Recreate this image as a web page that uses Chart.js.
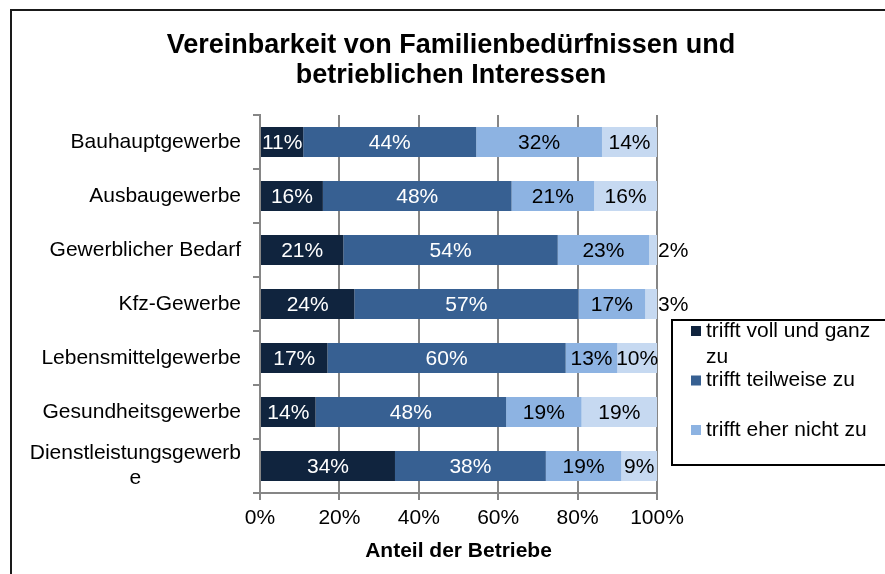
<!DOCTYPE html>
<html lang="de">
<head>
<meta charset="utf-8">
<title>Vereinbarkeit von Familienbedürfnissen und betrieblichen Interessen</title>
<script src="https://cdn.jsdelivr.net/npm/chart.js@4.4.1/dist/chart.umd.min.js"></script>
<style>
  html, body { margin: 0; padding: 0; background: #fff; }
  #wrap { width: 885px; height: 574px; position: relative; }
</style>
</head>
<body>
<div id="wrap"><canvas id="chart" width="885" height="574"></canvas></div>
<script>
// Daten
const TITLE_LINES = ['Vereinbarkeit von Familienbedürfnissen und', 'betrieblichen Interessen'];
const X_TITLE = 'Anteil der Betriebe';
const CATEGORIES = ['Bauhauptgewerbe', 'Ausbaugewerbe', 'Gewerblicher Bedarf', 'Kfz-Gewerbe',
  'Lebensmittelgewerbe', 'Gesundheitsgewerbe', 'Dienstleistungsgewerbe'];
const SERIES_NAMES = ['trifft voll und ganz zu', 'trifft teilweise zu', 'trifft eher nicht zu', 'trifft überhaupt nicht zu'];
const VOLL = [11, 16, 21, 24, 17, 14, 34];
const TEILWEISE = [44, 48, 54, 57, 60, 48, 38];
const EHER_NICHT = [32, 21, 23, 17, 13, 19, 19];
const UEBERHAUPT_NICHT = [14, 16, 2, 3, 10, 19, 9];
const X_TICKS = [0, 20, 40, 60, 80, 100];

const COLORS = ['#10243e', '#376092', '#8db3e2', '#c6d9f1'];
const LABEL_COLORS = ['#fff', '#fff', '#000', '#000'];
const GRID = '#868686';
const FONT = "'Liberation Sans', Arial, sans-serif";

const SERIES = [VOLL, TEILWEISE, EHER_NICHT, UEBERHAUPT_NICHT];
// 100%-gestapelt: jede Zeile auf ihre Summe beziehen
const rowTotals = CATEGORIES.map((_, i) => SERIES.reduce((s, arr) => s + arr[i], 0));

function wrapText(ctx, text, maxWidth) {
  const lines = [];
  let line = '';
  text.split(' ').forEach(word => {
    const test = line ? line + ' ' + word : word;
    if (ctx.measureText(test).width <= maxWidth) { line = test; return; }
    if (line) { lines.push(line); line = ''; }
    // zu langes Wort wird wie in Excel mitten im Wort umbrochen
    let part = '';
    for (const ch of word) {
      if (part && ctx.measureText(part + ch).width > maxWidth) { lines.push(part); part = ch; }
      else part += ch;
    }
    line = part;
  });
  if (line) lines.push(line);
  return lines;
}

const framePlugin = {
  id: 'frame',
  beforeDraw(chart) {
    const { ctx } = chart;
    ctx.save();
    ctx.fillStyle = '#fff';
    ctx.fillRect(0, 0, chart.width, chart.height);
    ctx.strokeStyle = '#1a1a1a';
    ctx.lineWidth = 2;
    ctx.strokeRect(11, 10, 900, 600);
    ctx.restore();
  }
};

const titlePlugin = {
  id: 'titleLines',
  afterDraw(chart) {
    const { ctx } = chart;
    ctx.save();
    ctx.font = `bold 27px ${FONT}`;
    ctx.fillStyle = '#000';
    ctx.textAlign = 'center';
    ctx.textBaseline = 'alphabetic';
    TITLE_LINES.forEach((t, i) => ctx.fillText(t, 451, 53 + i * 30));
    ctx.restore();
  }
};

const yLabelPlugin = {
  id: 'yLabels',
  afterDraw(chart) {
    const { ctx } = chart;
    const scale = chart.scales.y;
    ctx.save();
    ctx.font = `21px ${FONT}`;
    ctx.fillStyle = '#000';
    ctx.textAlign = 'center';
    ctx.textBaseline = 'middle';
    CATEGORIES.forEach((cat, i) => {
      const lines = wrapText(ctx, cat, 215);
      const blockW = Math.max(...lines.map(l => ctx.measureText(l).width));
      const cx = 241 - blockW / 2;
      const py = scale.getPixelForTick(i);
      lines.forEach((l, k) => ctx.fillText(l, cx, py - (lines.length - 1) * 12.5 + k * 25));
    });
    ctx.restore();
  }
};

const barLabelPlugin = {
  id: 'barLabels',
  afterDatasetsDraw(chart) {
    const { ctx } = chart;
    ctx.save();
    ctx.font = `21px ${FONT}`;
    ctx.textBaseline = 'middle';
    chart.data.datasets.forEach((ds, k) => {
      chart.getDatasetMeta(k).data.forEach((bar, i) => {
        const v = ds.shown[i];
        const txt = v + '%';
        ctx.fillStyle = LABEL_COLORS[k];
        if (v < 5) {
          ctx.fillStyle = '#000';
          ctx.textAlign = 'left';
          ctx.fillText(txt, bar.x + 1, bar.y + 1);
        } else {
          ctx.textAlign = 'center';
          ctx.fillText(txt, (bar.x + bar.base) / 2, bar.y + 1);
        }
      });
    });
    ctx.restore();
  }
};

const legendPlugin = {
  id: 'legendBox',
  afterDraw(chart) {
    const { ctx } = chart;
    const box = { x: 672, y: 320, w: 300, h: 145 };
    ctx.save();
    ctx.strokeStyle = '#000';
    ctx.lineWidth = 2;
    ctx.strokeRect(box.x, box.y, box.w, box.h);
    ctx.beginPath();
    ctx.rect(box.x + 1, box.y + 1, box.w - 2, box.h - 2);
    ctx.clip();
    ctx.font = `21px ${FONT}`;
    ctx.textAlign = 'left';
    ctx.textBaseline = 'middle';
    chart.data.datasets.forEach((ds, k) => {
      const top = 318 + k * 49.5;
      ctx.fillStyle = ds.backgroundColor;
      ctx.fillRect(691, top + 8, 10, 10);
      ctx.fillStyle = '#000';
      wrapText(ctx, ds.label, 175).forEach((l, n) => ctx.fillText(l, 706, top + 13 + n * 26));
    });
    ctx.restore();
  }
};

Chart.defaults.font.family = FONT;
Chart.defaults.font.size = 21;
Chart.defaults.color = '#000';

new Chart(document.getElementById('chart'), {
  type: 'bar',
  data: {
    labels: CATEGORIES,
    datasets: SERIES.map((arr, k) => ({
      label: SERIES_NAMES[k],
      data: arr.map((v, i) => v / rowTotals[i] * 100),
      shown: arr,
      backgroundColor: COLORS[k],
      borderWidth: 0,
      barPercentage: 0.556,
      categoryPercentage: 1
    }))
  },
  options: {
    indexAxis: 'y',
    responsive: false,
    animation: false,
    devicePixelRatio: 1,
    layout: { padding: { top: 115, right: 228, bottom: 0, left: 0 } },
    plugins: { legend: { display: false }, tooltip: { enabled: false } },
    scales: {
      x: {
        stacked: true,
        min: 0, max: 100,
        afterBuildTicks: s => { s.ticks = X_TICKS.map(v => ({ value: v })); },
        afterFit: s => { s.height = 81; },
        ticks: { padding: 6, callback: v => v + '%' },
        grid: { color: GRID, lineWidth: 2, tickLength: 7, drawTicks: true },
        border: { display: true, color: GRID, width: 2 },
        title: { display: true, text: X_TITLE, font: { size: 21, weight: 'bold' }, padding: { top: 0, bottom: 10 } }
      },
      y: {
        stacked: true,
        afterFit: s => { s.width = 260; },
        ticks: { display: false },
        grid: { color: GRID, lineWidth: 2, tickLength: 7, drawTicks: true, drawOnChartArea: false, offset: true },
        border: { display: true, color: GRID, width: 2 }
      }
    }
  },
  plugins: [framePlugin, titlePlugin, yLabelPlugin, barLabelPlugin, legendPlugin]
});
</script>
</body>
</html>
